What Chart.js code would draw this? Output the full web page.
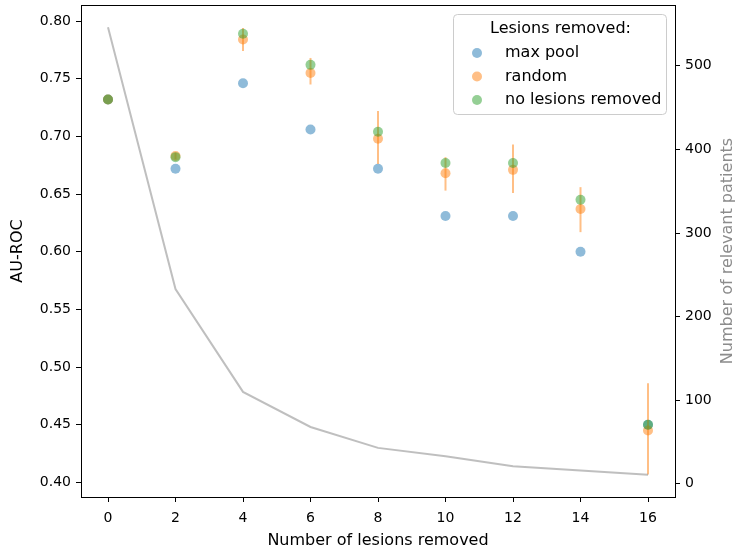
<!DOCTYPE html>
<html>
<head>
<meta charset="utf-8">
<script src="https://cdn.jsdelivr.net/npm/chart.js@4.4.1/dist/chart.umd.min.js"></script>
<style>
  html, body { margin: 0; padding: 0; background: #fff; }
  #wrap { width: 738px; height: 551px; }
</style>
</head>
<body>
<div id="wrap"><canvas id="chart" width="738" height="551"></canvas></div>
<script>
// lesions removed (x) and the three AU-ROC series
const lesionsRemoved = [0, 2, 4, 6, 8, 10, 12, 14, 16];
const maxPool   = [0.732, 0.672, 0.746, 0.706, 0.672, 0.631, 0.631, 0.600, 0.450];
const randomAvg = [0.732, 0.683, 0.784, 0.755, 0.698, 0.668, 0.671, 0.637, 0.445];
const randomLo  = [0.732, 0.680, 0.774, 0.745, 0.676, 0.653, 0.651, 0.617, 0.407];
const randomHi  = [0.732, 0.686, 0.794, 0.768, 0.722, 0.682, 0.693, 0.656, 0.486];
const noRemoved = [0.732, 0.682, 0.789, 0.762, 0.704, 0.677, 0.677, 0.645, 0.450];
// patients still having enough lesions (right axis)
const patients  = [546, 233, 110, 68, 43, 33, 21, 16, 11];

const leftTicks  = [0.40, 0.45, 0.50, 0.55, 0.60, 0.65, 0.70, 0.75, 0.80];
const rightTicks = [0, 100, 200, 300, 400, 500];
const legendLabels = ['max pool', 'random', 'no lesions removed'];

const BLUE = 'rgba(31,119,180,0.5)';
const ORANGE = 'rgba(255,127,14,0.5)';
const GREEN = 'rgba(44,160,44,0.5)';
const FONT = "'DejaVu Sans', sans-serif";
const LABEL_SIZE = 16;

Chart.defaults.font.family = FONT;
Chart.defaults.font.size = 14;
Chart.defaults.color = '#000';

const pts = arr => lesionsRemoved.map((x, i) => ({ x: x, y: arr[i] }));

// orange error bars for the random removal runs
const errorBars = {
  id: 'errorBars',
  afterDatasetDraw(chart, args) {
    if (args.index !== 1) return;
    const { ctx, scales } = chart;
    ctx.save();
    ctx.strokeStyle = ORANGE;
    ctx.lineWidth = 2;
    lesionsRemoved.forEach((x, i) => {
      if (randomHi[i] === randomLo[i]) return;
      const px = scales.x.getPixelForValue(x);
      ctx.beginPath();
      ctx.moveTo(px, scales.y.getPixelForValue(randomLo[i]));
      ctx.lineTo(px, scales.y.getPixelForValue(randomHi[i]));
      ctx.stroke();
    });
    ctx.restore();
  }
};

// top spine, right axis title and the in-plot legend
const extras = {
  id: 'extras',
  afterDraw(chart) {
    const { ctx, chartArea: a } = chart;
    ctx.save();
    ctx.strokeStyle = '#000';
    ctx.lineWidth = 1;
    ctx.beginPath();
    ctx.moveTo(a.left, a.top + 0.5);
    ctx.lineTo(a.right, a.top + 0.5);
    ctx.stroke();

    // right axis title, reads bottom to top
    ctx.save();
    ctx.translate(728, (a.top + a.bottom) / 2);
    ctx.rotate(-Math.PI / 2);
    ctx.fillStyle = '#8c8c8c';
    ctx.font = LABEL_SIZE + 'px ' + FONT;
    ctx.textAlign = 'center';
    ctx.textBaseline = 'middle';
    ctx.fillText('Number of relevant patients', 0, 0);
    ctx.restore();

    // legend box
    const bx = a.right - 222, by = a.top + 9, bw = 213, bh = 100;
    ctx.beginPath();
    ctx.roundRect(bx + 0.5, by + 0.5, bw, bh, 4);
    ctx.fillStyle = 'rgba(255,255,255,0.8)';
    ctx.fill();
    ctx.strokeStyle = '#cccccc';
    ctx.stroke();

    ctx.font = LABEL_SIZE + 'px ' + FONT;
    ctx.fillStyle = '#000';
    ctx.textBaseline = 'middle';
    ctx.textAlign = 'center';
    ctx.fillText('Lesions removed:', bx + bw / 2 + 1, by + 15);
    const colors = [BLUE, ORANGE, GREEN];
    ctx.textAlign = 'left';
    legendLabels.forEach((lab, i) => {
      const ly = by + 39 + i * 23.5;
      ctx.beginPath();
      ctx.arc(bx + 24, ly, 5, 0, Math.PI * 2);
      ctx.fillStyle = colors[i];
      ctx.fill();
      ctx.fillStyle = '#000';
      ctx.fillText(lab, bx + 52, ly);
    });
    ctx.restore();
  }
};

const noPad = s => { s.paddingTop = 0; s.paddingBottom = 0; };

new Chart(document.getElementById('chart'), {
  type: 'scatter',
  data: {
    datasets: [
      { label: legendLabels[0], data: pts(maxPool), backgroundColor: BLUE, borderWidth: 0, pointRadius: 5, order: 3 },
      { label: legendLabels[1], data: pts(randomAvg), backgroundColor: ORANGE, borderWidth: 0, pointRadius: 5, order: 2 },
      { label: legendLabels[2], data: pts(noRemoved), backgroundColor: GREEN, borderWidth: 0, pointRadius: 5, order: 1 },
      {
        type: 'line', label: 'patients', data: pts(patients), yAxisID: 'y1',
        borderColor: 'rgba(128,128,128,0.5)', borderWidth: 2, pointRadius: 0,
        fill: false, tension: 0, order: 0
      }
    ]
  },
  options: {
    responsive: false,
    animation: false,
    layout: { padding: { top: 5, left: 0, right: 0, bottom: 0 } },
    plugins: { legend: { display: false }, tooltip: { enabled: false } },
    scales: {
      x: {
        type: 'linear', min: -0.8, max: 16.8,
        afterBuildTicks: s => { s.ticks = lesionsRemoved.map(v => ({ value: v })); },
        afterFit: s => { s.height = 54; s.paddingLeft = 0; s.paddingRight = 0; },
        grid: { drawOnChartArea: false, tickLength: 5, color: '#000' },
        border: { color: '#000' },
        ticks: { padding: 8, maxRotation: 0, callback: v => String(v) },
        title: { display: true, text: 'Number of lesions removed', font: { size: LABEL_SIZE }, padding: { top: 4, bottom: 1 } }
      },
      y: {
        position: 'left', min: 0.3874, max: 0.8139,
        afterBuildTicks: s => { s.ticks = leftTicks.map(v => ({ value: v })); },
        afterFit: s => { s.width = 81; noPad(s); },
        grid: { drawOnChartArea: false, tickLength: 5, color: '#000' },
        border: { color: '#000' },
        ticks: { padding: 5, callback: v => v.toFixed(2) },
        title: { display: true, text: 'AU-ROC', font: { size: LABEL_SIZE }, padding: { top: 8, bottom: 4 } }
      },
      y1: {
        position: 'right', min: -15.75, max: 572.75,
        afterBuildTicks: s => { s.ticks = rightTicks.map(v => ({ value: v })); },
        afterFit: s => { s.width = 63; noPad(s); },
        grid: { drawOnChartArea: false, tickLength: 5, color: '#000' },
        border: { color: '#000' },
        ticks: { padding: 5, callback: v => String(v) }
      }
    }
  },
  plugins: [errorBars, extras]
});
</script>
</body>
</html>
